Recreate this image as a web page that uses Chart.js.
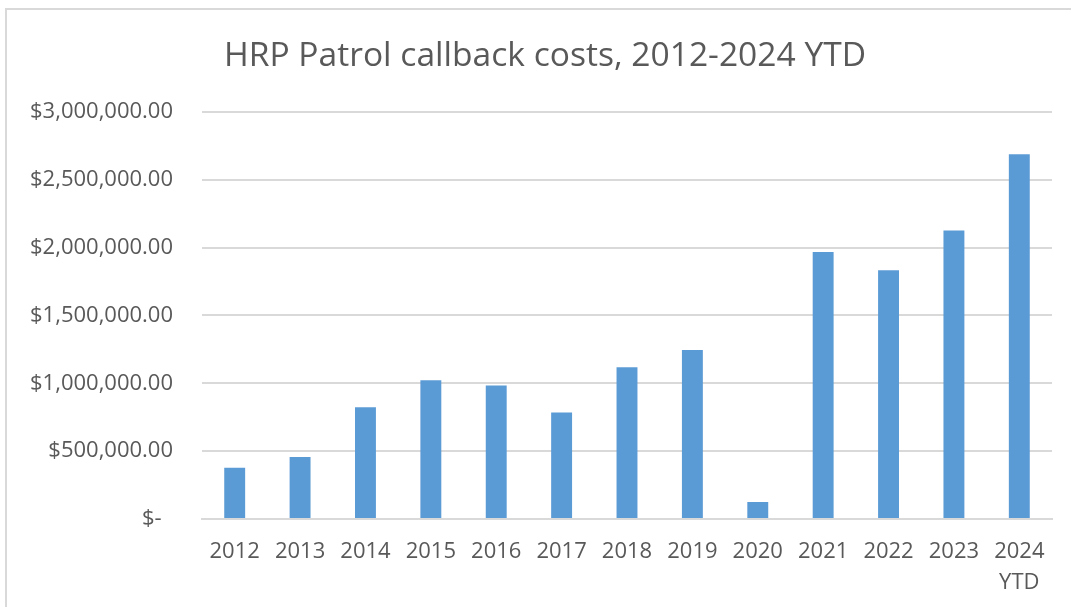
<!DOCTYPE html>
<html>
<head>
<meta charset="utf-8">
<title>HRP Patrol callback costs</title>
<script src="https://cdn.jsdelivr.net/npm/chart.js@4"></script>
<style>
    html, body { margin: 0; padding: 0; background: #fff; }
    #wrap { position: relative; width: 1071px; height: 607px; overflow: hidden; }
    #frame {
        position: absolute; left: 5px; top: 8px; width: 1100px; height: 700px;
        border-left: 2px solid #d9d9d9; border-top: 2px solid #d9d9d9;
    }
    #chart { position: absolute; left: 0; top: 0; }
</style>
</head>
<body>
<div id="wrap">
    <div id="frame"></div>
    <canvas id="chart" width="1071" height="607"></canvas>
</div>
<script>
// data
const years = ['2012', '2013', '2014', '2015', '2016', '2017', '2018', '2019',
    '2020', '2021', '2022', '2023', ['2024', 'YTD']];
const costs = [377000, 456000, 824000, 1022000, 983000, 784000, 1118000, 1245000,
    125000, 1968000, 1833000, 2125000, 2687000];
const yTicks = [0, 500000, 1000000, 1500000, 2000000, 2500000, 3000000];

const grey = '#595959';
const gridGrey = '#d9d9d9';

function money(v) {
    if (v === 0) return '$-  ';
    const s = Math.round(v).toString().replace(/\B(?=(\d{3})+(?!\d))/g, ',');
    return '$' + s + '.00';
}

// Excel centres the title a bit right of the canvas middle
const titleNudge = {
    id: 'titleNudge',
    afterLayout(chart) {
        if (chart.titleBlock) chart.titleBlock.left = 38;
    }
};

const ctx = document.getElementById('chart').getContext('2d');
const chart = new Chart(ctx, {
    type: 'bar',
    data: {
        labels: years,
        datasets: [{
            label: 'Callback costs',
            data: costs,
            backgroundColor: '#5b9bd5',
            borderWidth: 0,
            categoryPercentage: 0.64,
            barPercentage: 0.5
        }]
    },
    options: {
        responsive: false,
        animation: false,
        layout: { padding: { left: 0, right: 19, top: 0, bottom: 0 } },
        plugins: {
            legend: { display: false },
            tooltip: { enabled: false },
            title: {
                display: true,
                text: 'HRP Patrol callback costs, 2012-2024 YTD',
                color: grey,
                font: { family: 'Open Sans', size: 33.6, weight: 'normal', lineHeight: 1.2 },
                padding: { top: 36, bottom: 35.5 }
            }
        },
        scales: {
            x: {
                grid: { display: false, drawTicks: false },
                border: { display: true, color: gridGrey, width: 2 },
                ticks: {
                    color: grey,
                    padding: 17.5,
                    font: { family: 'Open Sans', size: 22, lineHeight: 1.4 },
                    maxRotation: 0,
                    autoSkip: false
                },
                afterFit: s => { s.height = 88; }
            },
            y: {
                min: 0,
                max: 3000000,
                afterBuildTicks: s => { s.ticks = yTicks.map(v => ({ value: v })); },
                grid: { color: gridGrey, lineWidth: 2, drawTicks: false },
                border: { display: false },
                ticks: {
                    color: grey,
                    padding: 29,
                    font: { family: 'Open Sans', size: 22 },
                    callback: v => money(v)
                },
                afterFit: s => { s.width = 202; }
            }
        }
    },
    plugins: [titleNudge]
});
</script>
</body>
</html>
